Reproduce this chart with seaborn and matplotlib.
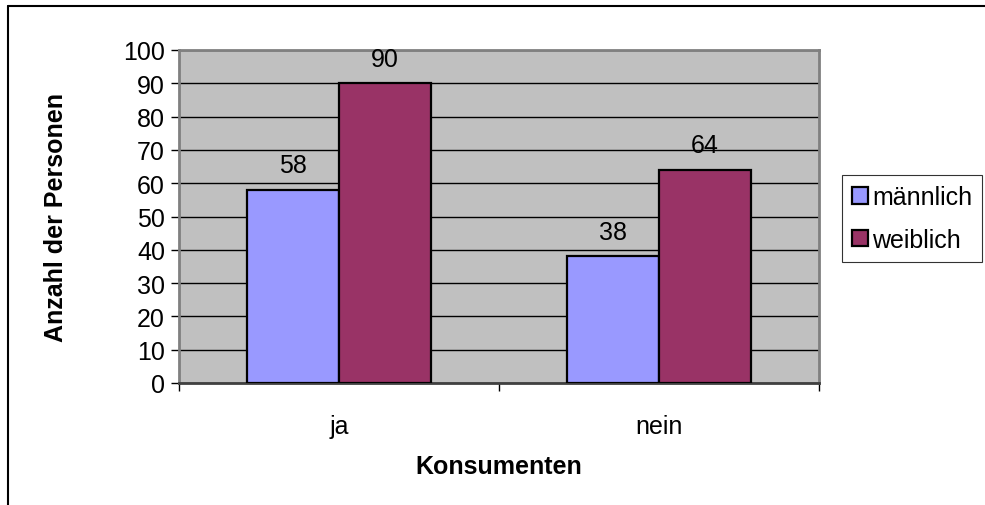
import matplotlib
matplotlib.use("Agg")
import matplotlib.pyplot as plt
from matplotlib.lines import Line2D
from matplotlib.patches import Patch
import seaborn as sns
import pandas as pd

categories = ["ja", "nein"]
maennlich = [58, 38]
weiblich = [90, 64]
series_names = ["männlich", "weiblich"]
colors = ["#9999FF", "#993366"]

df = pd.DataFrame({
    "Konsumenten": categories * 2,
    "Anzahl": maennlich + weiblich,
    "Geschlecht": [series_names[0]] * len(categories) + [series_names[1]] * len(categories),
})

sns.set_theme(style="white")
plt.rcParams["font.family"] = ["Liberation Sans", "DejaVu Sans"]
plt.rcParams["text.color"] = "black"
plt.rcParams["axes.labelcolor"] = "black"
plt.rcParams["xtick.color"] = "black"
plt.rcParams["ytick.color"] = "black"

FS = 18

fig = plt.figure(figsize=(9.85, 5.06), dpi=100)
ax = fig.add_axes([179 / 985, 1 - 384 / 506, 640 / 985, 333 / 506])
ax.set_facecolor("#C0C0C0")

sns.barplot(data=df, x="Konsumenten", y="Anzahl", hue="Geschlecht",
            palette=colors, saturation=1, edgecolor="black", linewidth=1.6,
            width=0.575, gap=0, ax=ax, legend=False, zorder=3)

for cont in ax.containers:
    ax.bar_label(cont, fmt="%d", padding=9, fontsize=FS, color="black")

ax.set_ylim(0, 100)
ax.set_xlim(-0.5, 1.5)
ax.set_yticks(range(0, 101, 10))
ax.yaxis.grid(True, color="black", linewidth=1.0, zorder=0)
ax.set_axisbelow(True)
ax.tick_params(axis="y", which="major", length=6, width=1, color="black",
               labelsize=FS, pad=4, left=True, direction="out")
ax.tick_params(axis="x", which="major", length=0, labelsize=FS, pad=22)
ax.set_xticks([-0.5, 0.5, 1.5], minor=True)
ax.tick_params(axis="x", which="minor", length=6, width=1, color="black",
               direction="out", bottom=True)

for side in ["top", "right", "left"]:
    ax.spines[side].set_color("#808080")
    ax.spines[side].set_linewidth(2)
ax.spines["bottom"].set_color("#404040")
ax.spines["bottom"].set_linewidth(2)

ax.set_xlabel("Konsumenten", fontsize=FS, fontweight="bold", labelpad=12)
ax.set_ylabel("Anzahl der Personen", fontsize=FS, fontweight="bold", labelpad=40)

handles = [Patch(facecolor=c, edgecolor="black", linewidth=1.6) for c in colors]
leg = fig.legend(handles, series_names, loc="upper left",
                 bbox_to_anchor=(842 / 985, 1 - 176 / 506),
                 fontsize=FS, frameon=True, fancybox=False, shadow=False,
                 handlelength=0.65, handleheight=0.65, handletextpad=0.15,
                 borderpad=0.4, labelspacing=0.75, borderaxespad=0)
leg.get_frame().set_edgecolor("black")
leg.get_frame().set_linewidth(0.8)

# chart area border (left and top edges)
fig.add_artist(Line2D([8 / 985, 8 / 985], [0, 1 - 7 / 506], color="black", linewidth=1.5))
fig.add_artist(Line2D([8 / 985, 1], [1 - 7 / 506, 1 - 7 / 506], color="black", linewidth=1.5))

fig.savefig("out.png", dpi=100)
